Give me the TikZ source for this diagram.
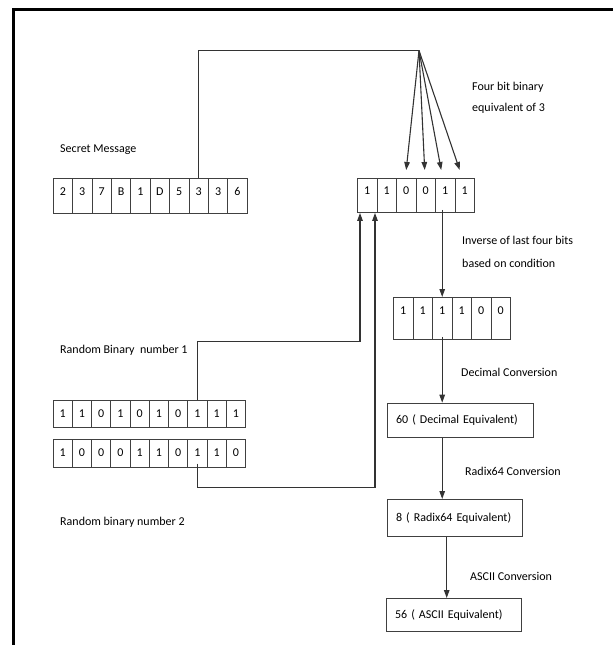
\documentclass[tikz,border=0pt]{standalone}
\usepackage{fontspec}
\setmainfont{Carlito}
\usetikzlibrary{arrows.meta,calc}
\begin{document}
\begin{tikzpicture}[x=1pt,y=-1pt,
  ln/.style={draw=black!80, line width=1.1pt},
  arr/.style={ln, -{Triangle[length=8pt,width=5.5pt]}},
  cell/.style={draw=black!75, line width=0.9pt, inner sep=0pt, anchor=north west},
  digit/.style={anchor=center, inner sep=0pt, font=\fontsize{12}{14}\selectfont, text=black},
  txt/.style={font=\fontsize{12}{14}\selectfont, text=black, inner sep=0pt, anchor=west},
  box/.style={draw=black!75, line width=0.9pt, anchor=north west, inner sep=0pt, inner xsep=9pt,
    align=left, font=\fontsize{12}{14}\selectfont, text=black}
]
\useasboundingbox (0,0) rectangle (613,645);
% frame
\draw[line width=3pt] (13.5,645) -- (13.5,9.5) -- (613,9.5);

% secret message
\foreach \d [count=\i] in {2,3,7,B,1,D,5,3,3,6}
  \node[cell, minimum width=19.4pt, minimum height=35pt,
        label={[digit, yshift=-14pt]north:\d}] (sm\i) at ({52.7+(\i-1)*19.4},177.5) {};
% top array
\foreach \d [count=\i] in {1,1,0,0,1,1}
  \node[cell, minimum width=19.5pt, minimum height=34pt,
        label={[digit, yshift=-12.5pt]north:\d}] (ta\i) at ({357+(\i-1)*19.5},178) {};
% second array
\foreach \d [count=\i] in {1,1,1,1,0,0}
  \node[cell, minimum width=19.5pt, minimum height=42pt,
        label={[digit, yshift=-13.5pt]north:\d}] (sa\i) at ({393+(\i-1)*19.5},297) {};
% random binary 1
\foreach \d [count=\i] in {1,1,0,1,0,1,0,1,1,1}
  \node[cell, minimum width=19.23pt, minimum height=26.7pt,
        label={[digit, yshift=-13.3pt]north:\d}] (ra\i) at ({52.7+(\i-1)*19.23},400) {};
% random binary 2
\foreach \d [count=\i] in {1,0,0,0,1,1,0,1,1,0}
  \node[cell, minimum width=19.23pt, minimum height=27.7pt,
        label={[digit, yshift=-13.8pt]north:\d}] (rb\i) at ({52.7+(\i-1)*19.23},439) {};

% boxes
\node[box, minimum width=146.3pt, minimum height=34.3pt, text width=128.3pt] (dec) at (386.7,402.7) {60 ( Decimal Equivalent)};
\node[box, minimum width=135pt, minimum height=36.7pt, text width=117pt] (rad) at (386.7,499) {8 ( Radix64 Equivalent)};
\node[box, minimum width=135.3pt, minimum height=33pt, text width=117.3pt] (asc) at (385.7,598) {56 ( ASCII Equivalent)};

% labels
\node[txt] (l1) at (472,87) {Four bit binary};
\node[txt] (l2) at (472,108) {equivalent of 3};
\node[txt] (l3) at (462,240) {Inverse of last four bits};
\node[txt] (l4) at (462,263) {based on condition};
\node[txt] (l5) at (461,372) {Decimal Conversion};
\node[txt] (l6) at (465,471) {Radix64 Conversion};
\node[txt] (l7) at (470,576) {ASCII Conversion};
\node[txt] (l8) at (60,150) {Secret Message};
\node[txt] (l9) at (60,350) {Random Binary\ \ number 1};
\node[txt] (l10) at (60,522) {Random binary number 2};

% connectors
\coordinate (apex) at (419,50.5);
\draw[ln] (sm8.north) -- (sm8.north |- apex) -- (apex);
\draw[arr] (apex) -- ([yshift=8pt]ta3.north);
\draw[arr] (apex) -- ([xshift=-1pt,yshift=8pt]ta4.north);
\draw[arr] (apex) -- ([xshift=-4pt,yshift=8pt]ta5.north);
\draw[arr] (apex) -- ([xshift=-5pt,yshift=8pt]ta6.north);

\coordinate (k1) at (360,341.5);
\draw[arr] (ra8.north) -- (ra8.north |- k1) -- (k1) -- (k1 |- ta1.south);
\coordinate (k2) at (375,487.5);
\draw[arr] ([yshift=4pt]rb8.south) -- (rb8.south |- k2) -- (k2) -- (k2 |- ta2.south);

\draw[arr] ([yshift=3pt]sa3.north |- ta5.south) -- (sa3.north);
\draw[arr] ([yshift=3pt]sa3.south) -- (sa3.south |- dec.north);
\draw[arr] (sa3.south |- dec.south) -- (sa3.south |- rad.north);
\coordinate (r1) at ([xshift=60pt]rad.south west);
\draw[arr] (r1) -- (r1 |- asc.north);
\end{tikzpicture}
\end{document}
